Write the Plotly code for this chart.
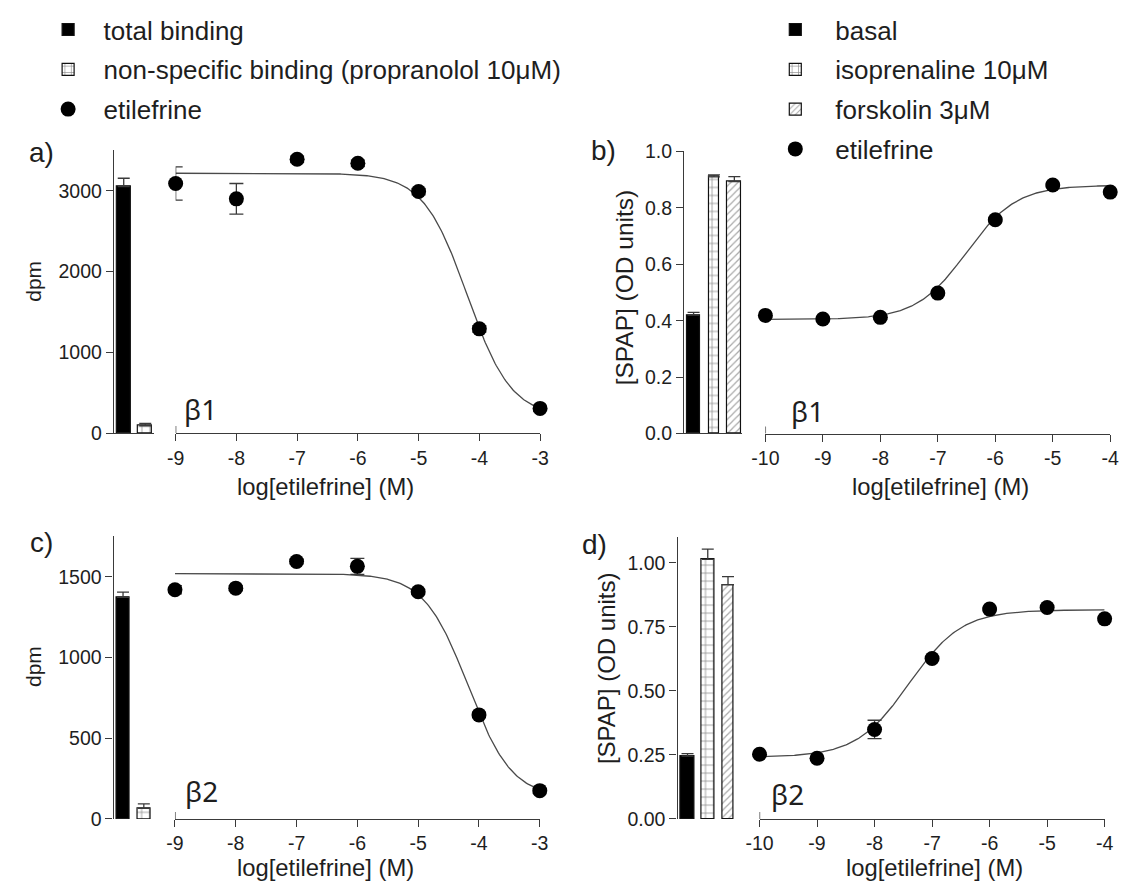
import numpy as np
import plotly.graph_objects as go

W, H = 1130, 893

# ---------------- data ----------------
tick_ab = [-9, -8, -7, -6, -5, -4, -3]
tick_ab_text = ["-9", "-8", "-7", "-6", "-5", "-4", "-3"]
tick_bd = [-10, -9, -8, -7, -6, -5, -4]
tick_bd_text = ["-10", "-9", "-8", "-7", "-6", "-5", "-4"]

# panel a (beta1 binding)
a_log = [-9, -8, -7, -6, -5, -4, -3]
a_mean = [3090, 2900, 3390, 3340, 2990, 1290, 305]
a_sem = [205, 190, 40, 40, 40, 40, 40]
a_bar_names = ["total binding", "non-specific binding (propranolol 10μM)"]
a_bar_mean = [3050, 90]
a_bar_sem = [105, 30]
a_fit = [3217, 200, -4.2, -1.2]   # top, bottom, logIC50, hill

# panel b (beta1 SPAP)
b_log = [-10, -9, -8, -7, -6, -5, -4]
b_mean = [0.419, 0.406, 0.412, 0.498, 0.758, 0.881, 0.856]
b_sem = [0.006, 0.006, 0.006, 0.006, 0.006, 0.006, 0.006]
b_bar_names = ["basal", "isoprenaline 10μM", "forskolin 3μM"]
b_bar_mean = [0.420, 0.910, 0.893]
b_bar_sem = [0.010, 0.007, 0.018]
b_fit = [0.880, 0.405, -6.5, 1.0]

# panel c (beta2 binding)
c_log = [-9, -8, -7, -6, -5, -4, -3]
c_mean = [1419, 1429, 1594, 1564, 1407, 644, 175]
c_sem = [25, 15, 15, 50, 15, 15, 15]
c_bar_mean = [1372, 65]
c_bar_sem = [33, 28]
c_fit = [1519, 130, -4.18, -1.2]

# panel d (beta2 SPAP)
d_log = [-10, -9, -8, -7, -6, -5, -4]
d_mean = [0.2525, 0.237, 0.349, 0.626, 0.819, 0.825, 0.781]
d_sem = [0.006, 0.006, 0.036, 0.006, 0.006, 0.006, 0.006]
d_bar_mean = [0.245, 1.013, 0.914]
d_bar_sem = [0.010, 0.040, 0.032]
d_fit = [0.816, 0.241, -7.4, 0.95]


def fourpl(x, p):
    top, bottom, x50, hill = p
    return bottom + (top - bottom) / (1.0 + 10 ** ((x50 - x) * hill))


# ---------------- layout helpers ----------------
def xd(a, b):
    return [a / W, b / W]


def yd(top, bottom):
    return [1 - bottom / H, 1 - top / H]


TXT = "#1e1e1e"
AX = "#3a3a3a"
FONT = "Liberation Sans, Arial, sans-serif"
TICKF = dict(family=FONT, size=19.5, color=TXT)

fig = go.Figure()

patterns = {
    "solid": dict(shape=""),
    "grid": dict(shape="+", fgcolor="#111111", bgcolor="white", size=8, solidity=0.18),
    "hatch": dict(shape="/", fgcolor="#555555", bgcolor="white", size=5, solidity=0.25),
}


def add_bar(name, val, err, xa, ya, kind, width, legend, showlegend):
    fill = "black" if kind == "solid" else "white"
    fig.add_trace(go.Bar(
        x=[name], y=[val], width=[width],
        xaxis=xa, yaxis=ya,
        marker=dict(color=fill, line=dict(color="#111111", width=1.2),
                    pattern=patterns[kind]),
        error_y=dict(type="data", symmetric=False, array=[err], arrayminus=[0],
                     color=AX, thickness=1.3, width=6),
        name=name, legend=legend, showlegend=showlegend,
        legendgroup=(name + legend) if showlegend else None,
    ))


def add_curve(logs, mean, sem, fit, xa, ya, legend, showlegend):
    xs = np.linspace(logs[0], logs[-1], 300)
    fig.add_trace(go.Scatter(x=xs, y=fourpl(xs, fit), mode="lines",
                             line=dict(color="#4a4a4a", width=1.3),
                             xaxis=xa, yaxis=ya, showlegend=False, hoverinfo="skip"))
    fig.add_trace(go.Scatter(x=logs, y=mean, mode="markers",
                             marker=dict(color="black", size=15),
                             error_y=dict(type="data", array=sem, color=AX,
                                          thickness=1.3, width=7),
                             xaxis=xa, yaxis=ya, cliponaxis=False,
                             name="etilefrine", legend=legend, showlegend=showlegend,
                             legendgroup=("etilefrine" + legend) if showlegend else None))


# panel a
add_bar(a_bar_names[0], a_bar_mean[0], a_bar_sem[0], "x", "y", "solid", 0.64, "legend", True)
add_bar(a_bar_names[1], a_bar_mean[1], a_bar_sem[1], "x", "y", "grid", 0.66, "legend", True)
add_curve(a_log, a_mean, a_sem, a_fit, "x2", "y2", "legend", True)
# panel b
add_bar(b_bar_names[0], b_bar_mean[0], b_bar_sem[0], "x3", "y3", "solid", 0.63, "legend2", True)
add_bar(b_bar_names[1], b_bar_mean[1], b_bar_sem[1], "x3", "y3", "grid", 0.46, "legend2", True)
add_bar(b_bar_names[2], b_bar_mean[2], b_bar_sem[2], "x3", "y3", "hatch", 0.67, "legend2", True)
add_curve(b_log, b_mean, b_sem, b_fit, "x4", "y4", "legend2", True)
# panel c
add_bar(a_bar_names[0], c_bar_mean[0], c_bar_sem[0], "x5", "y5", "solid", 0.60, "legend", False)
add_bar(a_bar_names[1], c_bar_mean[1], c_bar_sem[1], "x5", "y5", "grid", 0.64, "legend", False)
add_curve(c_log, c_mean, c_sem, c_fit, "x6", "y6", "legend", False)
# panel d
add_bar(b_bar_names[0], d_bar_mean[0], d_bar_sem[0], "x7", "y7", "solid", 0.73, "legend2", False)
add_bar(b_bar_names[1], d_bar_mean[1], d_bar_sem[1], "x7", "y7", "grid", 0.64, "legend2", False)
add_bar(b_bar_names[2], d_bar_mean[2], d_bar_sem[2], "x7", "y7", "hatch", 0.53, "legend2", False)
add_curve(d_log, d_mean, d_sem, d_fit, "x8", "y8", "legend2", False)


def bar_x(domain, rng):
    return dict(domain=domain, type="category", range=rng, showline=True, linecolor=AX,
                linewidth=1.3, ticks="", showticklabels=False, showgrid=False,
                zeroline=False, fixedrange=True)


def bar_y(domain, rng, dtick, fmt, anchor):
    return dict(domain=domain, range=rng, anchor=anchor, showline=True, linecolor=AX,
                linewidth=1.3, ticks="outside", ticklen=7, tickwidth=1.3, tickcolor=AX,
                dtick=dtick, tick0=0, tickformat=fmt, tickfont=TICKF, showgrid=False,
                zeroline=False)


def curve_x(domain, rng, tv, tt, anchor):
    return dict(domain=domain, range=rng, anchor=anchor, showline=True, linecolor=AX,
                linewidth=1.3, ticks="outside", ticklen=7, tickwidth=1.3, tickcolor=AX,
                tickvals=tv, ticktext=tt, tickfont=TICKF, showgrid=False, zeroline=False)


def curve_y(domain, rng, anchor):
    return dict(domain=domain, range=rng, anchor=anchor, visible=False, showgrid=False,
                zeroline=False)


ya_dom = yd(142.9, 432.7)
yb_dom = yd(144.0, 433.3)
yc_dom = yd(538.6, 828.3)
yd_dom = yd(539.4, 828.3)

fig.update_layout(
    xaxis=bar_x(xd(102, 143), [-0.455, 1.41]),
    yaxis=bar_y(ya_dom, [0, 3500], 1000, "d", "x"),
    xaxis2=curve_x(xd(165, 537), [-9, -3], tick_ab, tick_ab_text, "y2"),
    yaxis2=curve_y(ya_dom, [0, 3500], "x2"),
    xaxis3=bar_x(xd(684, 743), [-0.466, 2.37]),
    yaxis3=bar_y(yb_dom, [0, 1.0], 0.2, ".1f", "x3"),
    xaxis4=curve_x(xd(767, 1119), [-10, -4], tick_bd, tick_bd_text, "y4"),
    yaxis4=curve_y(yb_dom, [0, 1.0], "x4"),
    xaxis5=bar_x(xd(101.7, 142.7), [-0.453, 1.48]),
    yaxis5=bar_y(yc_dom, [0, 1750], 500, "d", "x5"),
    xaxis6=curve_x(xd(164.3, 536.7), [-9, -3], tick_ab, tick_ab_text, "y6"),
    yaxis6=curve_y(yc_dom, [0, 1750], "x6"),
    xaxis7=bar_x(xd(677.3, 740), [-0.494, 2.54]),
    yaxis7=bar_y(yd_dom, [0, 1.1], 0.25, ".2f", "x7"),
    xaxis8=curve_x(xd(761, 1113.3), [-10, -4], tick_bd, tick_bd_text, "y8"),
    yaxis8=curve_y(yd_dom, [0, 1.1], "x8"),
)

LEGF = dict(family=FONT, size=26, color=TXT)
fig.update_layout(
    width=W, height=H, margin=dict(l=0, r=0, t=0, b=0),
    paper_bgcolor="white", plot_bgcolor="rgba(0,0,0,0)",
    barmode="overlay", bargap=0,
    font=dict(family=FONT, color=TXT),
    legend=dict(x=19 / W, y=1 + 5 / H, xanchor="left", yanchor="top",
                font=LEGF, itemwidth=61,
                tracegroupgap=3, traceorder="grouped", bgcolor="rgba(0,0,0,0)"),
    legend2=dict(x=756.7 / W, y=1 + 5 / H, xanchor="left", yanchor="top",
                 font=LEGF, itemwidth=70,
                 tracegroupgap=3, traceorder="grouped", bgcolor="rgba(0,0,0,0)"),
)

# small upward tick at the start of each concentration axis
for xa, ya, x0 in [("x2", "y2", -9), ("x4", "y4", -10), ("x6", "y6", -9), ("x8", "y8", -10)]:
    fig.add_shape(type="line", xref=xa, yref=ya, x0=x0, x1=x0, y0=0, y1=7,
                  ysizemode="pixel", yanchor=0, line=dict(color=AX, width=1.3))


def ann(text, x, y, size, angle=0, family=FONT):
    fig.add_annotation(text=text, x=x / W, y=1 - y / H, xref="paper", yref="paper",
                       showarrow=False, textangle=angle, xanchor="center", yanchor="middle",
                       font=dict(family=family, size=size, color=TXT))


# axis titles
ann("dpm", 20, 277, 21, -90)
ann("[SPAP] (OD units)", 623, 283, 24.5, -90)
ann("dpm", 20, 672, 21, -90)
ann("[SPAP] (OD units)", 605, 674, 24, -90)
ann("log[etilefrine] (M)", 318, 487, 23.8)
ann("log[etilefrine] (M)", 946, 487, 23.8)
ann("log[etilefrine] (M)", 318, 878, 23.8)
ann("log[etilefrine] (M)", 940, 878, 23.8)
# panel letters
ann("a)", 28, 145, 28)
ann("b)", 602, 143, 28)
ann("c)", 28, 545, 28)
ann("d)", 593, 547, 28)
# receptor labels
ann("β1", 190, 408, 28, family="Noto Sans, sans-serif")
ann("β1", 810, 410, 28, family="Noto Sans, sans-serif")
ann("β2", 191, 800, 28, family="Noto Sans, sans-serif")
ann("β2", 790, 803, 28, family="Noto Sans, sans-serif")

fig.write_html("out.html",
               post_script="document.body.style.margin='0px';"
                           "document.body.style.overflow='hidden';")
